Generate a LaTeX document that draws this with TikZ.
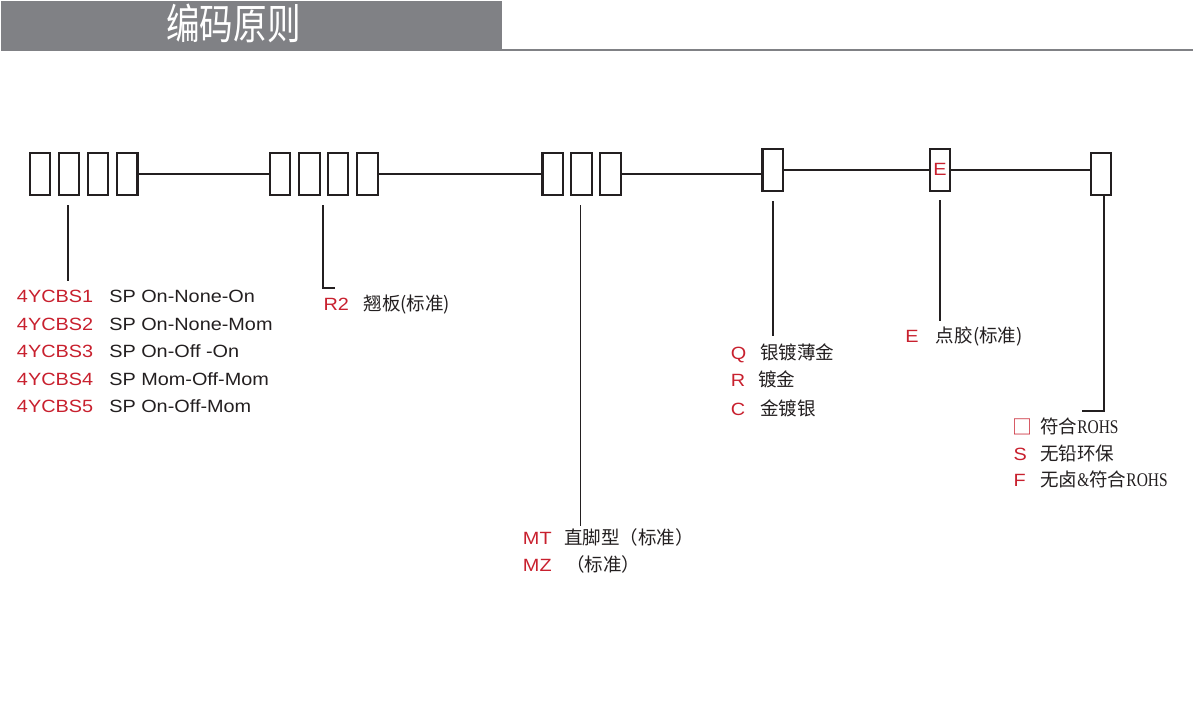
\documentclass[tikz,border=0pt]{standalone}
\usepackage{fontspec}
\setmainfont{Liberation Sans}
\newfontfamily\lat[FakeStretch=1.12]{Liberation Sans}
\newfontfamily\cjk{Noto Sans CJK SC}
\newfontfamily\hdr[FakeStretch=0.8]{Noto Sans CJK SC}
\newfontfamily\rohs[FakeStretch=0.8]{Liberation Serif}
\definecolor{codered}{RGB}{200,32,46}
\definecolor{ink}{RGB}{35,31,32}
\definecolor{hdrgray}{RGB}{128,129,133}
\tikzset{
  box/.style={draw=ink, line width=1.6pt, minimum width=15.4pt, minimum height=31.5pt, inner sep=0pt, fill=white},
  conn/.style={draw=ink, line width=1.3pt},
  code/.style={anchor=base west, inner sep=0pt, text=codered, font=\lat\fontsize{13.3pt}{16pt}\selectfont},
  desc/.style={anchor=base west, inner sep=0pt, text=ink, font=\lat\fontsize{13.3pt}{16pt}\selectfont},
  cdesc/.style={anchor=base west, inner sep=0pt, text=ink, font=\cjk\fontsize{13.9pt}{16pt}\selectfont},
}
\begin{document}
\begin{tikzpicture}[x=0.75pt, y=-0.75pt]
\useasboundingbox (0,0) rectangle (1193,724);
% header
\fill[hdrgray] (1,1) rectangle (502,51);
\fill[hdrgray] (502,49.3) rectangle (1193,51);
\node[inner sep=0pt, text=white, font=\hdr\fontsize{31.5pt}{34pt}\selectfont] (title) at (233.5,23) {编码原则};
% boxes
\node[box] (a1) at (40,173.7) {};
\node[box] (a2) at (69,173.7) {};
\node[box] (a3) at (98,173.7) {};
\node[box] (a4) at (127.2,173.7) {};
\node[box] (b1) at (280,173.7) {};
\node[box] (b2) at (309.3,173.7) {};
\node[box] (b3) at (338,173.7) {};
\node[box] (b4) at (367.4,173.7) {};
\node[box] (c1) at (552.8,173.7) {};
\node[box] (c2) at (581.4,173.7) {};
\node[box] (c3) at (610.5,173.7) {};
\node[box] (d) at (772.7,169.8) {};
\node[box, text=codered, font=\lat\fontsize{13.3pt}{16pt}\selectfont] (e) at (940,169.8) {E};
\node[box] (f) at (1101,173.7) {};
% connectors between boxes
\draw[conn] (a4.east) -- (b1.west);
\draw[conn] (b4.east) -- (c1.west);
\draw[conn] (c3.east) -- (c3.east -| d.west);
\draw[conn] (d.east) -- (e.west);
\draw[conn] (e.east) -- (e.east -| f.west);
% tick coordinates
\coordinate (t1a) at (68.3,205);   \coordinate (t1b) at (68.3,281);
\coordinate (t2a) at (323.3,205);  \coordinate (t2b) at (323.3,287.7); \coordinate (t2c) at (335,287.7);
\coordinate (t3a) at (580.4,205);  \coordinate (t3b) at (580.4,526);
\coordinate (t4a) at (772.7,201);  \coordinate (t4b) at (772.7,336);
\coordinate (t5a) at (939.7,200);  \coordinate (t5b) at (939.7,321);
\coordinate (t6a) at (1104.3,195); \coordinate (t6b) at (1104.3,411); \coordinate (t6c) at (1082.3,411);
\draw[conn] (t1a) -- (t1b);
\draw[conn] (t2a) -- (t2b) -- (t2c);
\draw[conn] (t3a) -- (t3b);
\draw[conn] (t4a) -- (t4b);
\draw[conn] (t5a) -- (t5b);
\draw[conn] (t6a) -- (t6b) -- (t6c);
% group 1 labels
\node[code] (k1) at (16.7,302.7) {4YCBS1};
\node[desc] (s1) at (109,302.7) {SP On-None-On};
\node[code] (k2) at (16.7,330.7) {4YCBS2};
\node[desc] (s2) at (109,330.7) {SP On-None-Mom};
\node[code] (k3) at (16.7,357.7) {4YCBS3};
\node[desc] (s3) at (109,357.7) {SP On-Off -On};
\node[code] (k4) at (16.7,385) {4YCBS4};
\node[desc] (s4) at (109,385) {SP Mom-Off-Mom};
\node[code] (k5) at (16.7,412.3) {4YCBS5};
\node[desc] (s5) at (109,412.3) {SP On-Off-Mom};
% group 2
\node[code] (r2) at (323.3,310.7) {R2};
\node[cdesc] (r2d) at (363.3,310.7) {翘板(标准)};
% group 3
\node[code] (mt) at (522.7,544) {MT};
\node[cdesc] (mtd) at (564,544) {直脚型（标准）};
\node[code] (mz) at (522.7,571.7) {MZ};
\node[cdesc] (mzd) at (566,571.7) {（标准）};
% box 4
\node[code] (q) at (730.7,359.3) {Q};
\node[cdesc] (qd) at (760,359.3) {银镀薄金};
\node[code] (r) at (730.7,386.7) {R};
\node[cdesc] (rd) at (758,386.7) {镀金};
\node[code] (c) at (730.7,415) {C};
\node[cdesc] (cd) at (760,415) {金镀银};
% box 5
\node[code] (ee) at (905,342.7) {E};
\node[cdesc] (eed) at (935.7,342.7) {点胶(标准)};
% box 6
\node[code, font=\cjk\fontsize{15pt}{17pt}\selectfont, anchor=base west] (sq) at (1012,434) {□};
\node[cdesc] (sqd) at (1040,433) {符合{\rohs\fontsize{14.5pt}{16pt}\selectfont ROHS}};
\node[code] (s) at (1013.3,460) {S};
\node[cdesc] (sd) at (1040,460) {无铅环保};
\node[code] (ff) at (1013.3,486.7) {F};
\node[cdesc] (ffd) at (1040,486.7) {无卤{\rohs\fontsize{14.5pt}{16pt}\selectfont\&}符合{\rohs\fontsize{14.5pt}{16pt}\selectfont ROHS}};
\end{tikzpicture}
\end{document}
